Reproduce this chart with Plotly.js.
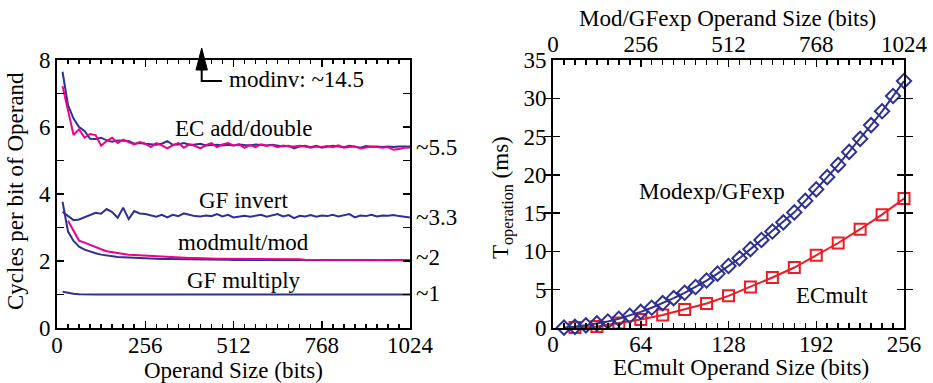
<!DOCTYPE html>
<html>
<head>
<meta charset="utf-8">
<script src="https://cdn.plot.ly/plotly-3.0.1.min.js"></script>
<style>html,body{margin:0;padding:0;background:#fff;}#chart{width:933px;height:383px;}</style>
</head>
<body>
<div id="chart"></div>
<script>
// ---------- Left panel data: cycles per bit of operand ----------
const operandBits = [16,32,48,64,80,96,112,128,144,160,176,192,208,224,240,256,
  272,288,304,320,336,352,368,384,400,416,432,448,464,480,496,512,
  528,544,560,576,592,608,624,640,656,672,688,704,720,736,752,768,
  784,800,816,832,848,864,880,896,912,928,944,960,976,992,1008,1024];

const ecAddDoubleBlue = [7.65,6.65,6.25,6.00,5.88,5.65,5.64,5.68,5.60,5.56,5.60,5.58,5.58,5.50,5.52,5.50,
  5.48,5.47,5.50,5.58,5.47,5.48,5.52,5.47,5.48,5.50,5.45,5.46,5.47,5.45,5.47,5.45,
  5.48,5.46,5.45,5.48,5.46,5.45,5.47,5.44,5.42,5.44,5.36,5.42,5.44,5.40,5.44,5.38,
  5.40,5.44,5.42,5.40,5.44,5.40,5.38,5.43,5.41,5.42,5.40,5.42,5.40,5.42,5.43,5.42];

const ecAddDoublePink = [7.22,6.50,5.76,5.93,5.68,5.79,5.76,5.44,5.58,5.68,5.52,5.62,5.55,5.48,5.55,5.50,
  5.40,5.52,5.45,5.36,5.46,5.52,5.38,5.48,5.44,5.36,5.46,5.52,5.40,5.48,5.52,5.45,
  5.48,5.38,5.46,5.40,5.48,5.44,5.46,5.40,5.45,5.42,5.42,5.44,5.42,5.38,5.42,5.40,
  5.43,5.40,5.45,5.38,5.40,5.42,5.36,5.40,5.42,5.40,5.38,5.40,5.32,5.34,5.38,5.39];

const gfInvert = [3.47,3.35,3.22,3.24,3.30,3.36,3.44,3.41,3.55,3.46,3.29,3.59,3.25,3.49,3.42,3.40,
  3.37,3.32,3.38,3.30,3.38,3.34,3.42,3.38,3.34,3.33,3.36,3.34,3.40,3.33,3.38,3.30,
  3.33,3.35,3.32,3.36,3.38,3.32,3.36,3.40,3.33,3.37,3.28,3.35,3.33,3.37,3.32,3.36,
  3.34,3.38,3.33,3.37,3.40,3.30,3.36,3.34,3.38,3.33,3.36,3.35,3.37,3.34,3.32,3.30];

const modmultBlue = [3.77,2.88,2.60,2.43,2.34,2.28,2.23,2.19,2.16,2.14,2.12,2.11,2.10,2.09,2.08,2.08,
  2.07,2.07,2.06,2.06,2.06,2.05,2.05,2.05,2.05,2.04,2.04,2.04,2.04,2.04,2.04,2.03,
  2.03,2.03,2.03,2.03,2.03,2.03,2.03,2.03,2.03,2.03,2.03,2.03,2.02,2.02,2.02,2.02,
  2.02,2.02,2.02,2.02,2.02,2.02,2.02,2.02,2.02,2.02,2.02,2.02,2.02,2.02,2.02,2.02];

const modmultPink = [null,3.20,2.90,2.61,2.55,2.48,2.40,2.35,2.29,2.26,2.23,2.21,2.19,2.18,2.17,2.16,
  2.14,2.13,2.12,2.12,2.11,2.10,2.10,2.09,2.09,2.08,2.08,2.08,2.07,2.07,2.07,2.06,
  2.06,2.06,2.06,2.05,2.05,2.05,2.05,2.05,2.05,2.05,2.05,2.05,2.04,2.04,2.04,2.04,
  2.04,2.04,2.04,2.04,2.04,2.04,2.04,2.03,2.03,2.03,2.03,2.03,2.03,2.03,2.03,2.03];

const gfMultiply = [1.08,1.04,1.02,1.01,1.00,1.00,1.00,1.00,1.00,1.00,1.00,1.00,1.00,1.00,1.00,1.00,
  1.00,1.00,1.00,1.00,1.00,1.00,1.00,1.00,1.00,1.00,1.00,1.00,1.00,1.00,1.00,1.00,
  1.00,1.00,1.00,1.00,1.00,1.00,1.00,1.00,1.00,1.00,1.00,1.00,1.00,1.00,1.00,1.00,
  1.00,1.00,1.00,1.00,1.00,1.00,1.00,1.00,1.00,1.00,1.00,1.00,1.00,1.00,1.00,1.00];

// ---------- Right panel data: operation time (ms) ----------
const modexpBits = [32,64,96,128,160,192,224,256,288,320,352,384,416,448,480,512,
  544,576,608,640,672,704,736,768,800,832,864,896,928,960,992,1024];
const modexpMs = [0.05,0.15,0.35,0.6,0.85,1.2,1.6,2.1,2.65,3.25,3.9,4.6,5.35,6.2,7.1,8.1,
  9.1,10.3,11.5,12.6,13.8,15.1,16.6,18.1,19.7,21.3,23.0,24.7,26.5,28.3,30.3,32.25];

const ecmultBits = [16,32,48,64,80,96,112,128,144,160,176,192,208,224,240,256];
const ecmultMs = [0.05,0.2,0.65,1.1,1.7,2.4,3.2,4.2,5.35,6.6,7.9,9.5,11.1,12.9,14.8,16.9];

// tick labels
const leftXTicks = [0,256,512,768,1024];
const leftYTicks = [0,2,4,6,8];
const ecTicks = [0,64,128,192,256];
const modTicks = [0,256,512,768,1024];
const msTicks = [0,5,10,15,20,25,30,35];

const BLUE = '#2E3192', PINK = '#EC008C', RED = '#ED1C24';
const FONT = "'Liberation Serif', 'Times New Roman', Times, serif";
const W = 933, H = 383;
const px = v => v / W, py = v => 1 - v / H;

const traces = [
  {x: operandBits, y: gfMultiply, xaxis:'x', yaxis:'y', mode:'lines', line:{color:BLUE, width:2}},
  {x: operandBits, y: modmultBlue, xaxis:'x', yaxis:'y', mode:'lines', line:{color:BLUE, width:2}},
  {x: operandBits, y: modmultPink, xaxis:'x', yaxis:'y', mode:'lines', line:{color:PINK, width:2}},
  {x: operandBits, y: gfInvert, xaxis:'x', yaxis:'y', mode:'lines', line:{color:BLUE, width:2}},
  {x: operandBits, y: ecAddDoubleBlue, xaxis:'x', yaxis:'y', mode:'lines', line:{color:BLUE, width:2}},
  {x: operandBits, y: ecAddDoublePink, xaxis:'x', yaxis:'y', mode:'lines', line:{color:PINK, width:2}},
  {x: modexpBits, y: modexpMs, xaxis:'x3', yaxis:'y2', mode:'lines+markers', cliponaxis:false,
   line:{color:BLUE, width:2}, marker:{symbol:'diamond-open', size:11, color:BLUE, line:{width:2, color:BLUE}}},
  {x: ecmultBits, y: ecmultMs, xaxis:'x2', yaxis:'y2', mode:'lines+markers', cliponaxis:false,
   line:{color:RED, width:2}, marker:{symbol:'square-open', size:11, color:RED, line:{width:2, color:RED}}}
];

const axisCommon = {
  showline:true, linewidth:2, linecolor:'black', showgrid:false, zeroline:false,
  ticks:'inside', ticklen:7, tickwidth:1.5, tickcolor:'black',
  tickfont:{family:FONT, size:23, color:'black'}, mirror:'allticks', fixedrange:true
};
const yDom = [py(328), py(60)];

const layout = {
  width:W, height:H, margin:{l:0, r:0, t:0, b:0},
  paper_bgcolor:'white', plot_bgcolor:'white', showlegend:false,
  font:{family:FONT, size:23, color:'black'},
  xaxis: Object.assign({}, axisCommon, {domain:[px(57), px(410)], anchor:'y', range:[0,1024],
    tickmode:'array', tickvals:leftXTicks, ticktext:leftXTicks.map(String), ticklabelstandoff:-5,
    minor:{dtick:32, tick0:0, ticks:'inside', ticklen:4, tickwidth:1.5, tickcolor:'black'}}),
  yaxis: Object.assign({}, axisCommon, {domain:yDom, anchor:'x', range:[0,8],
    tickmode:'array', tickvals:leftYTicks, ticktext:leftYTicks.map(String),
    minor:{dtick:1, tick0:0, ticks:'inside', ticklen:7, tickwidth:1.5, tickcolor:'black'}}),
  xaxis2: Object.assign({}, axisCommon, {domain:[px(553), px(904)], anchor:'y2', range:[0,256],
    tickmode:'array', tickvals:ecTicks, ticktext:ecTicks.map(String), ticklabelstandoff:-6,
    minor:{dtick:8, tick0:0, ticks:'inside', ticklen:5, tickwidth:1.5, tickcolor:'black'}}),
  xaxis3: Object.assign({}, axisCommon, {overlaying:'x2', side:'top', anchor:'y2', range:[0,1024],
    tickmode:'array', tickvals:modTicks, ticktext:modTicks.map(String), ticks:'', mirror:false, ticklabelstandoff:-3}),
  yaxis2: Object.assign({}, axisCommon, {domain:yDom, anchor:'x2', range:[0,35],
    tickmode:'array', tickvals:msTicks, ticktext:msTicks.map(String)}),
  annotations: [
    // axis titles
    {xref:'paper', yref:'paper', x:px(233), y:py(370), text:'Operand Size (bits)', showarrow:false, xanchor:'center', yanchor:'middle'},
    {xref:'paper', yref:'paper', x:px(16), y:py(191), text:'Cycles per bit of Operand', textangle:-90, showarrow:false, xanchor:'center', yanchor:'middle'},
    {xref:'paper', yref:'paper', x:px(741), y:py(367), text:'ECmult Operand Size (bits)', showarrow:false, xanchor:'center', yanchor:'middle'},
    {xref:'paper', yref:'paper', x:px(727), y:py(18), text:'Mod/GFexp Operand Size (bits)', showarrow:false, xanchor:'center', yanchor:'middle'},
    {xref:'paper', yref:'paper', x:px(502), y:py(198), text:'T<sub>operation</sub> (ms)', textangle:-90, showarrow:false, xanchor:'center', yanchor:'middle'},
    // left panel series labels
    {xref:'x', yref:'y', x:541, y:5.97, text:'EC add/double', showarrow:false},
    {xref:'x', yref:'y', x:541, y:3.82, text:'GF invert', showarrow:false},
    {xref:'x', yref:'y', x:541, y:2.54, text:'modmult/mod', showarrow:false},
    {xref:'x', yref:'y', x:541, y:1.43, text:'GF multiply', showarrow:false},
    {xref:'paper', yref:'y', x:px(414), y:5.40, text:'~5.5', showarrow:false, xanchor:'left'},
    {xref:'paper', yref:'y', x:px(414), y:3.31, text:'~3.3', showarrow:false, xanchor:'left'},
    {xref:'paper', yref:'y', x:px(414), y:2.09, text:'~2', showarrow:false, xanchor:'left'},
    {xref:'paper', yref:'y', x:px(414), y:1.04, text:'~1', showarrow:false, xanchor:'left'},
    {xref:'paper', yref:'paper', x:px(227), y:py(79), text:'modinv: ~14.5', showarrow:false, xanchor:'left', yanchor:'middle'},
    // right panel series labels
    {xref:'paper', yref:'paper', x:px(712), y:py(192), text:'Modexp/GFexp', showarrow:false, xanchor:'center', yanchor:'middle'},
    {xref:'paper', yref:'paper', x:px(832), y:py(295), text:'ECmult', showarrow:false, xanchor:'center', yanchor:'middle'}
  ],
  shapes: [
    {type:'path', xref:'paper', yref:'paper', layer:'above',
     path:`M${px(201.7)},${py(70)} L${px(201.7)},${py(81)} L${px(222)},${py(81)}`,
     line:{color:'black', width:2}},
    {type:'path', xref:'paper', yref:'paper', layer:'above',
     path:`M${px(201.7)},${py(48)} L${px(196)},${py(70)} L${px(207.4)},${py(70)} Z`,
     fillcolor:'black', line:{color:'black', width:1}}
  ]
};

Plotly.newPlot('chart', traces, layout, {staticPlot:true, displayModeBar:false});
</script>
</body>
</html>
